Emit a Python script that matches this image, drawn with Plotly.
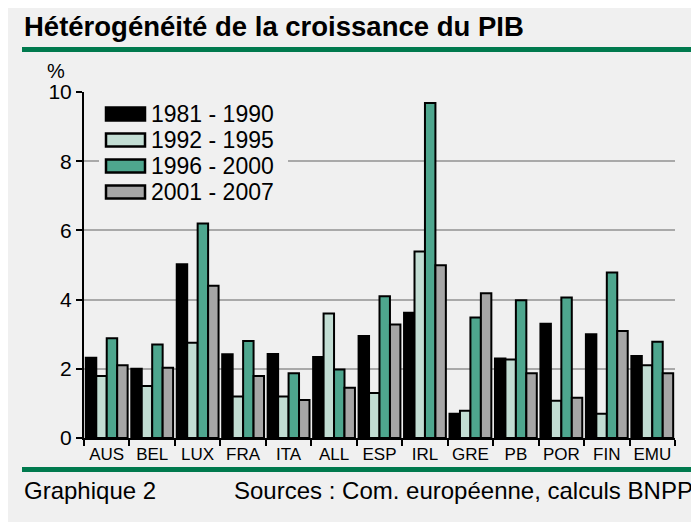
import plotly.graph_objects as go

categories = ["AUS", "BEL", "LUX", "FRA", "ITA", "ALL", "ESP", "IRL", "GRE", "PB", "POR", "FIN", "EMU"]
series_names = ["1981 - 1990", "1992 - 1995", "1996 - 2000", "2001 - 2007"]
s1981_1990 = [2.32, 2.0, 5.02, 2.42, 2.43, 2.34, 2.95, 3.62, 0.7, 2.3, 3.3, 3.0, 2.37]
s1992_1995 = [1.79, 1.5, 2.75, 1.2, 1.2, 3.6, 1.3, 5.39, 0.79, 2.27, 1.08, 0.7, 2.1]
s1996_2000 = [2.88, 2.7, 6.2, 2.8, 1.87, 1.98, 4.1, 9.68, 3.48, 3.98, 4.06, 4.78, 2.78]
s2001_2007 = [2.1, 2.03, 4.4, 1.79, 1.1, 1.45, 3.28, 4.99, 4.18, 1.87, 1.16, 3.09, 1.87]
y_ticks = [0, 2, 4, 6, 8, 10]

series_values = [s1981_1990, s1992_1995, s1996_2000, s2001_2007]
colors = ["#000000", "#c2ddd3", "#4ea68e", "#a6a6a6"]

OFF = 8               # page body margin of the browser
W, H = 699 - OFF, 522 - OFF
X0, X1 = 84, 675      # plot area in window pixels
Y0, Y1 = 92, 438
BG = "#f0f0f0"
GREEN = "#007a4e"
SANS = "Liberation Sans, Arial, sans-serif"


def px(x):
    return (x - X0) / (X1 - X0)


def py(y):
    return (Y1 - y) / (Y1 - Y0)


fig = go.Figure()
for name, vals, col in zip(series_names, series_values, colors):
    fig.add_trace(go.Bar(
        x=categories, y=vals, name=name,
        marker=dict(color=col, line=dict(color="#000000", width=2)),
        showlegend=False,
    ))

shapes = []
annotations = []

# green rules
shapes.append(dict(type="line", xref="paper", yref="paper",
                   x0=px(22), x1=px(699), y0=py(49.5), y1=py(49.5),
                   line=dict(color=GREEN, width=5), layer="above"))
shapes.append(dict(type="line", xref="paper", yref="paper",
                   x0=px(22), x1=px(699), y0=py(469.5), y1=py(469.5),
                   line=dict(color=GREEN, width=5), layer="above"))

# legend background (hides gridline behind legend)
shapes.append(dict(type="rect", xref="paper", yref="paper",
                   x0=px(99), x1=px(288), y0=py(98), y1=py(202),
                   fillcolor=BG, line=dict(width=0), layer="above"))
row_centers = [114, 140, 166, 192]
for name, col, yc in zip(series_names, colors, row_centers):
    shapes.append(dict(type="rect", xref="paper", yref="paper",
                       x0=px(106), x1=px(145), y0=py(yc - 6.5), y1=py(yc + 6.5),
                       fillcolor=col, line=dict(color="#000000", width=2.5), layer="above"))
    annotations.append(dict(text=name, xref="paper", yref="paper",
                            x=px(149), y=py(yc), xanchor="left", yanchor="middle",
                            showarrow=False, font=dict(family=SANS, size=23, color="#000000")))

# title
annotations.append(dict(text="<b>Hétérogénéité de la croissance du PIB</b>", xref="paper", yref="paper",
                        x=px(22), y=py(27), xanchor="left", yanchor="middle", showarrow=False,
                        font=dict(family=SANS, size=27.5, color="#000000")))
# % label
annotations.append(dict(text="%", xref="paper", yref="paper",
                        x=px(56), y=py(71), xanchor="center", yanchor="middle", showarrow=False,
                        font=dict(family=SANS, size=20, color="#000000")))
# footer
annotations.append(dict(text="Graphique 2", xref="paper", yref="paper",
                        x=px(22), y=py(490), xanchor="left", yanchor="middle", showarrow=False,
                        font=dict(family=SANS, size=24, color="#000000")))
annotations.append(dict(text="Sources : Com. européenne, calculs BNPP", xref="paper", yref="paper",
                        x=px(695), y=py(490), xanchor="right", yanchor="middle", showarrow=False,
                        font=dict(family=SANS, size=24, color="#000000")))

fig.update_layout(
    width=W, height=H,
    margin=dict(l=X0 - OFF, r=699 - X1, t=Y0 - OFF, b=522 - Y1, pad=0, autoexpand=False),
    paper_bgcolor=BG, plot_bgcolor=BG,
    barmode="group", bargap=0.08, bargroupgap=0,
    showlegend=False,
    shapes=shapes, annotations=annotations,
    font=dict(family=SANS, color="#000000"),
)
fig.update_xaxes(
    type="category", tickson="boundaries", ticks="outside", ticklen=6, tickwidth=2,
    tickcolor="#000000", showline=True, linecolor="#000000", linewidth=2,
    showgrid=False, tickangle=0, automargin=False,
    tickfont=dict(family=SANS, size=17, color="#000000"),
)
fig.update_yaxes(
    range=[0, 10], tickvals=y_ticks, ticks="outside", ticklen=6, tickwidth=2,
    tickcolor="#000000", showline=True, linecolor="#000000", linewidth=2,
    showgrid=True, gridcolor="#a9a9a9", gridwidth=2, zeroline=False, automargin=False,
    tickfont=dict(family=SANS, size=21, color="#000000"),
)

fig.write_html("out.html")
